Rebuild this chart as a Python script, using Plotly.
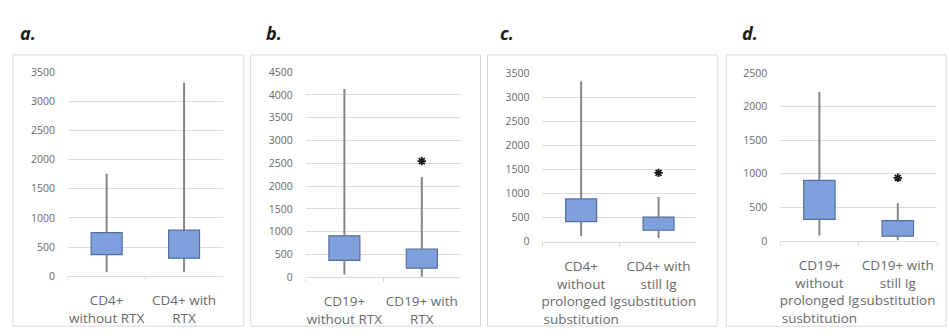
import plotly.graph_objects as go

W, H = 949, 336

# ---- data -------------------------------------------------------------
panel_titles = ["a.", "b.", "c.", "d."]

cats_a = ["CD4+<br>without RTX", "CD4+ with<br>RTX"]
cats_b = ["CD19+<br>without RTX", "CD19+ with<br>RTX"]
cats_c = ["CD4+<br>without<br>prolonged Ig<br>substitution", "CD4+ with<br>still Ig<br>substitution"]
cats_d = ["CD19+<br>without<br>prolonged Ig<br>susbtitution", "CD19+ with<br>still Ig<br>substitution"]

low_a, q1_a, q3_a, up_a = [70, 80], [370, 310], [750, 790], [1760, 3320]
low_b, q1_b, q3_b, up_b = [60, 10], [370, 200], [910, 620], [4130, 2200]
low_c, q1_c, q3_c, up_c = [120, 80], [420, 240], [890, 510], [3330, 930]
low_d, q1_d, q3_d, up_d = [80, 10], [320, 70], [900, 300], [2220, 560]

out_a = [None, None]
out_b = [None, 2550]
out_c = [None, 1430]
out_d = [None, 940]

y_max = [3500, 4500, 3500, 2500]

# ---- layout geometry (pixels) ----------------------------------------
plot_px = [  # x0, x1, y_top, y_bottom of each plotting area
    (67, 222, 68, 281),
    (305, 460, 68, 282),
    (542, 697, 69, 245),
    (780, 937, 69, 244),
]
frame_px = [(12, 243), (250, 480), (487, 717), (726, 946)]
title_x = [17, 263, 498, 740]

panels = [
    (cats_a, low_a, q1_a, q3_a, up_a, out_a),
    (cats_b, low_b, q1_b, q3_b, up_b, out_b),
    (cats_c, low_c, q1_c, q3_c, up_c, out_c),
    (cats_d, low_d, q1_d, q3_d, up_d, out_d),
]

BOX_FILL = "#7EA1DE"
BOX_EDGE = "#546C9C"
WHISKER = "#858585"
GRID = "#DCDCDC"
TEXT = "#6A6A6A"
FONT = "Open Sans"

fig = go.Figure()
shapes, annotations = [], []

for i, (cats, low, q1, q3, up, outs) in enumerate(panels):
    n = i + 1
    xa = "x" if n == 1 else f"x{n}"
    ya = "y" if n == 1 else f"y{n}"

    # whiskers below and above each box
    wx, wy = [], []
    for c, lo, a, b, hi in zip(cats, low, q1, q3, up):
        wx += [c, c, None, c, c, None]
        wy += [lo, a, None, b, hi, None]
    fig.add_trace(go.Scatter(x=wx, y=wy, mode="lines",
                             line=dict(color=WHISKER, width=2),
                             xaxis=xa, yaxis=ya, hoverinfo="skip",
                             showlegend=False))

    # interquartile boxes
    fig.add_trace(go.Bar(x=cats, y=[b - a for a, b in zip(q1, q3)], base=q1,
                         width=0.4, marker=dict(color=BOX_FILL,
                                                line=dict(color=BOX_EDGE, width=1.2)),
                         xaxis=xa, yaxis=ya, showlegend=False))

    # outliers
    ox = [c for c, o in zip(cats, outs) if o is not None]
    oy = [o for o in outs if o is not None]
    if ox:
        fig.add_trace(go.Scatter(x=ox, y=oy, mode="markers",
                                 marker=dict(symbol="asterisk-open", size=7,
                                             color="#1a1a1a",
                                             line=dict(color="#1a1a1a", width=1.8)),
                                 xaxis=xa, yaxis=ya, showlegend=False))

    x0, x1, yt, yb = plot_px[i]
    xdom = [x0 / W, x1 / W]
    ydom = [(H - yb) / H, (H - yt) / H]

    fig.layout[f"xaxis{'' if n == 1 else n}"] = dict(
        domain=xdom, anchor=ya, type="category", range=[-0.5, 1.5],
        showline=True, linecolor=GRID, linewidth=1,
        ticks="outside", tickson="boundaries", ticklen=4, tickcolor=GRID,
        showgrid=False, fixedrange=True, tickangle=0,
        tickfont=dict(family=FONT, size=13.5, color=TEXT),
        ticklabelstandoff=12,
    )
    fig.layout[f"yaxis{'' if n == 1 else n}"] = dict(
        domain=ydom, anchor=xa, range=[0, y_max[i]], dtick=500,
        showgrid=True, gridcolor=GRID, gridwidth=1, zeroline=False,
        showline=False, ticks="", fixedrange=True,
        tickfont=dict(family=FONT, size=10.5, color=TEXT),
        ticklabelstandoff=12,
    )

    fx0, fx1 = frame_px[i]
    shapes.append(dict(type="rect", xref="paper", yref="paper",
                       x0=fx0 / W, x1=fx1 / W, y0=(H - 333) / H, y1=(H - 50) / H,
                       line=dict(color="#D9D9D9", width=1), fillcolor="rgba(0,0,0,0)",
                       layer="below"))
    annotations.append(dict(text=f"<b><i>{panel_titles[i]}</i></b>", xref="paper",
                            yref="paper", x=title_x[i] / W, y=(H - 27) / H,
                            xanchor="left", yanchor="middle", showarrow=False,
                            font=dict(family=FONT, size=18, color="#1a1a1a")))

fig.update_layout(
    width=W, height=H, margin=dict(l=0, r=0, t=0, b=0),
    paper_bgcolor="white", plot_bgcolor="white",
    barmode="overlay", shapes=shapes, annotations=annotations,
)

fig.write_html("out.html")
